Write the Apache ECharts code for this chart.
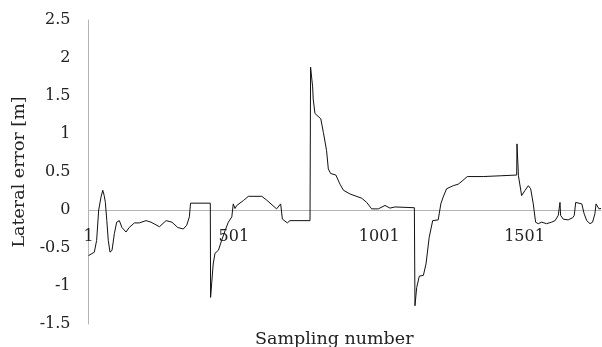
<!DOCTYPE html>
<html>
<head>
<meta charset="utf-8">
<script src="https://cdn.jsdelivr.net/npm/echarts@6/dist/echarts.min.js"></script>
<style>
  html, body { margin: 0; padding: 0; background: #ffffff; }
  #chart { width: 602px; height: 347px; }
</style>
</head>
<body>
<div id="chart"></div>
<script>
// Lateral tracking error against sampling number (breakpoints of the trace)
const sampleCount = 1764;
const sampleNumbers = [
  1, 21, 29, 36, 44, 50, 55, 59, 64, 69, 75, 82, 90, 98, 107, 116, 130, 141, 159, 176,
  199, 216, 245, 268, 288, 308, 327, 339, 348, 352, 420, 421, 430, 436, 448, 459, 471, 482, 494, 499,
  505, 511, 534, 551, 597, 614, 648, 662, 668, 685, 694, 763, 765, 772, 774, 780, 800, 809, 820, 826,
  834, 852, 866, 878, 901, 941, 958, 975, 998, 1021, 1038, 1055, 1122, 1124, 1130, 1139, 1153, 1162, 1173, 1185,
  1204, 1213, 1221, 1233, 1239, 1256, 1273, 1286, 1304, 1359, 1417, 1474, 1475, 1480, 1491, 1503, 1514, 1522, 1531, 1539,
  1548, 1560, 1577, 1594, 1606, 1617, 1623, 1625, 1634, 1651, 1667, 1672, 1677, 1682, 1698, 1701, 1706, 1715, 1726, 1735,
  1743, 1747, 1751, 1757, 1764
];
const lateralError = [
  -0.60, -0.555, -0.40, 0.00, 0.17, 0.26, 0.19, 0.10, -0.14, -0.40, -0.555, -0.53, -0.31, -0.16, -0.14, -0.23, -0.29, -0.23, -0.17, -0.17,
  -0.14, -0.16, -0.22, -0.14, -0.16, -0.23, -0.25, -0.20, -0.09, 0.09, 0.09, -1.15, -0.71, -0.57, -0.53, -0.40, -0.27, -0.16, -0.09, 0.08,
  0.02, 0.06, 0.125, 0.18, 0.18, 0.13, 0.015, 0.08, -0.12, -0.17, -0.14, -0.14, 1.88, 1.62, 1.46, 1.27, 1.20, 1.02, 0.78, 0.54,
  0.48, 0.46, 0.34, 0.26, 0.21, 0.155, 0.10, 0.015, 0.015, 0.06, 0.025, 0.04, 0.03, -1.26, -1.02, -0.87, -0.86, -0.71, -0.36, -0.14,
  -0.13, 0.08, 0.17, 0.28, 0.30, 0.32, 0.34, 0.38, 0.44, 0.44, 0.45, 0.46, 0.87, 0.45, 0.19, 0.26, 0.32, 0.28, 0.08, -0.16,
  -0.18, -0.16, -0.18, -0.16, -0.14, -0.07, 0.10, -0.07, -0.12, -0.13, -0.10, -0.07, 0.10, 0.08, 0.08, 0.10, -0.05, -0.14, -0.18, -0.16,
  -0.05, 0.08, 0.06, 0.015, 0.02
];
const yTicks = { min: -1.5, max: 2.5, step: 0.5 };
const xLabelEvery = 500;

const categories = [];
for (let i = 1; i <= sampleCount; i++) categories.push(String(i));
const seriesData = sampleNumbers.map((s, i) => [s - 1, lateralError[i]]);

const FONT = 'DejaVu Serif';
const axisGray = '#b4b4b4';
const GRID = { left: 88.5, right: 1, top: 20, bottom: 23 };

const chart = echarts.init(document.getElementById('chart'), null, { renderer: 'canvas' });
chart.setOption({
  animation: false,
  backgroundColor: '#ffffff',
  grid: Object.assign({ containLabel: false, outerBoundsMode: 'none' }, GRID),
  xAxis: {
    type: 'category',
    data: categories,
    boundaryGap: false,
    position: 'bottom',
    offset: 0,
    axisLine: { onZero: false, lineStyle: { color: axisGray, width: 1 } },
    axisTick: { show: false },
    axisLabel: {
      interval: (idx) => idx % xLabelEvery === 0,
      margin: 19,
      color: '#222',
      fontFamily: FONT,
      fontSize: 16
    },
    splitLine: { show: false }
  },
  yAxis: {
    type: 'value',
    min: yTicks.min,
    max: yTicks.max,
    interval: yTicks.step,
    name: 'Lateral error [m]',
    nameLocation: 'middle',
    nameGap: 60,
    nameTextStyle: { fontFamily: FONT, fontSize: 17.5, color: '#222' },
    axisLine: { show: true, lineStyle: { color: axisGray, width: 1 } },
    axisTick: { show: false },
    axisLabel: { margin: 18, color: '#222', fontFamily: FONT, fontSize: 16 },
    splitLine: { show: false }
  },
  graphic: [{
    type: 'text',
    left: 345 - 90,
    top: 330,
    style: {
      text: 'Sampling number',
      fontFamily: FONT,
      fontSize: 17.5,
      fill: '#222',
      width: 180,
      align: 'center'
    }
  }],
  series: [{
    type: 'line',
    data: seriesData,
    showSymbol: false,
    symbol: 'none',
    lineStyle: { color: '#111', width: 1 },
    z: 3
  }]
});

// Lift the category axis (line and labels) up to the y = 0 level
const zeroY = chart.convertToPixel({ yAxisIndex: 0 }, 0);
const plotBottom = chart.getHeight() - GRID.bottom;
chart.setOption({ xAxis: { offset: zeroY - plotBottom } });
</script>
</body>
</html>
